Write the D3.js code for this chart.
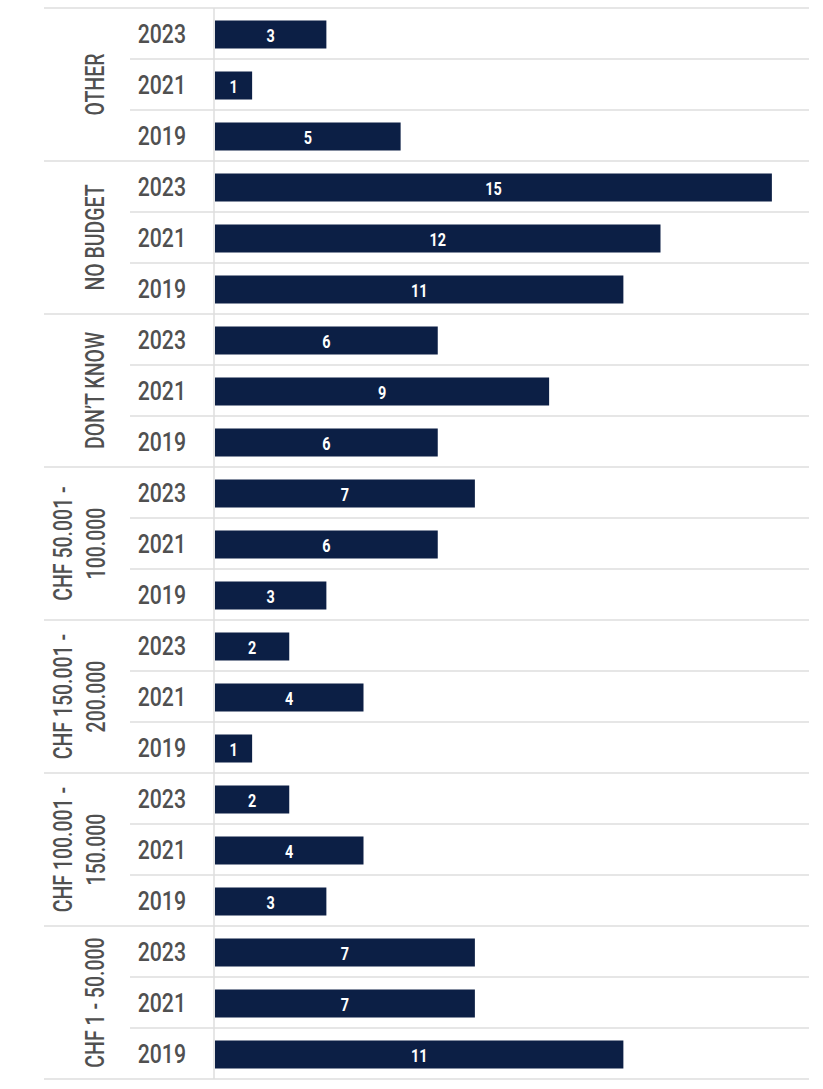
<!DOCTYPE html>
<html>
<head>
<meta charset="utf-8">
<script src="https://cdn.jsdelivr.net/npm/d3@7"></script>
<style>
  html, body { margin: 0; padding: 0; background: #ffffff; }
  svg { display: block; }
</style>
</head>
<body>
<script>
// Budget brackets, top to bottom, with the survey years shown in each
const categories = [
  ["OTHER"],
  ["NO BUDGET"],
  ["DON\u2019T KNOW"],
  ["CHF 50.001 -", "100.000"],
  ["CHF 150.001 -", "200.000"],
  ["CHF 100.001 -", "150.000"],
  ["CHF 1 - 50.000"]
];
const years = ["2023", "2021", "2019"];
const values2023 = [3, 15, 6, 7, 2, 2, 7];
const values2021 = [1, 12, 9, 6, 4, 4, 7];
const values2019 = [5, 11, 6, 3, 1, 3, 11];
const xDomain = [0, 16];

const W = 823, H = 1089;
const plotTop = 8, plotBottom = 1079;
const axisX = 214, plotRight = 809;
const navy = "#0c1f45";
const grid = "#dedede";
const textGrey = "#505050";

const seriesByYear = { "2023": values2023, "2021": values2021, "2019": values2019 };

const rows = [];
categories.forEach((c, gi) => {
  years.forEach(y => rows.push({ group: gi, year: y, key: gi + "-" + y, value: seriesByYear[y][gi] }));
});

const svg = d3.select("body").append("svg")
  .attr("width", W).attr("height", H);

const x = d3.scaleLinear().domain(xDomain).range([axisX + 1, plotRight]);
const yRow = d3.scaleBand().domain(rows.map(r => r.key)).range([plotTop, plotBottom]).paddingInner(0).paddingOuter(0);
const bandH = yRow.bandwidth();
const barH = 28;

// horizontal row separators
const lines = svg.append("g");
lines.selectAll("line.row")
  .data(d3.range(rows.length + 1))
  .join("line")
  .attr("class", "row")
  .attr("x1", i => (i % 3 === 0 ? 44 : 130))
  .attr("x2", plotRight)
  .attr("y1", i => plotTop + i * bandH)
  .attr("y2", i => plotTop + i * bandH)
  .attr("stroke", grid)
  .attr("stroke-width", 1.5);

// vertical baseline of the bars
lines.append("line")
  .attr("x1", axisX).attr("x2", axisX)
  .attr("y1", plotTop).attr("y2", plotBottom)
  .attr("stroke", grid).attr("stroke-width", 1.5);

// bars
svg.append("g").selectAll("rect")
  .data(rows)
  .join("rect")
  .attr("x", x(0))
  .attr("y", d => yRow(d.key) + (bandH - barH) / 2 + 1)
  .attr("width", d => x(d.value) - x(0))
  .attr("height", barH)
  .attr("fill", navy);

// value labels inside bars
svg.append("g").selectAll("g")
  .data(rows)
  .join("g")
  .attr("transform", d => `translate(${(x(0) + x(d.value)) / 2},${yRow(d.key) + bandH / 2 + 2}) scale(0.76,1)`)
  .append("text")
  .attr("text-anchor", "middle")
  .attr("dominant-baseline", "central")
  .attr("font-family", "Roboto, 'Liberation Sans', sans-serif")
  .attr("font-weight", 700)
  .attr("font-size", 19)
  .attr("fill", "#ffffff")
  .text(d => d.value);

// year labels
svg.append("g").selectAll("g")
  .data(rows)
  .join("g")
  .attr("transform", d => `translate(186,${yRow(d.key) + bandH / 2 + 1}) scale(0.85,1)`)
  .append("text")
  .attr("text-anchor", "end")
  .attr("dominant-baseline", "central")
  .attr("font-family", "Roboto, 'Liberation Sans', sans-serif")
  .attr("font-weight", 500)
  .attr("font-size", 25)
  .attr("fill", textGrey)
  .text(d => d.year);

// rotated category labels
const catG = svg.append("g");
categories.forEach((lbl, gi) => {
  const cy = plotTop + (gi * 3 + 1.5) * bandH;
  const xs = lbl.length === 1 ? [95] : [63, 96];
  lbl.forEach((line, li) => {
    catG.append("g")
      .attr("transform", `translate(${xs[li]},${cy}) rotate(-90) scale(0.78,1)`)
      .append("text")
      .attr("text-anchor", "middle")
      .attr("dominant-baseline", "central")
      .attr("font-family", "Roboto, 'Liberation Sans', sans-serif")
      .attr("font-weight", 500)
      .attr("font-size", 25)
      .attr("fill", textGrey)
      .text(line);
  });
});
</script>
</body>
</html>
